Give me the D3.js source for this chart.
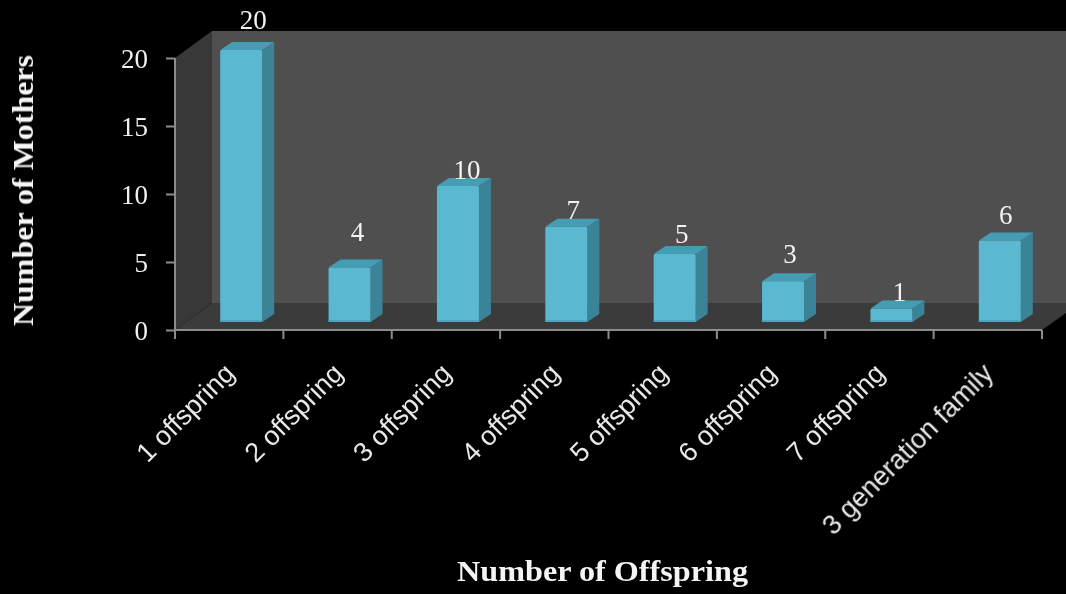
<!DOCTYPE html>
<html><head><meta charset="utf-8">
<script src="https://cdn.jsdelivr.net/npm/d3@7"></script>
<style>html,body{margin:0;background:#000;overflow:hidden}svg{display:block}</style>
</head><body><svg id="c" width="1066" height="594"></svg>
<script>
const categories = ["1 offspring","2 offspring","3 offspring","4 offspring","5 offspring","6 offspring","7 offspring","3 generation family"];
const mothers = [20,4,10,7,5,3,1,6];
const yTicks = [0,5,10,15,20];
const xTitle = "Number of Offspring";
const yTitle = "Number of Mothers";

const W=1066,H=594;
const svg=d3.select("#c");
const defs=svg.append("defs");
defs.append("filter").attr("id","soft").attr("x","-5%").attr("y","-5%").attr("width","110%").attr("height","110%")
  .append("feGaussianBlur").attr("stdDeviation",0.55);
defs.append("filter").attr("id","softText").attr("x","-5%").attr("y","-5%").attr("width","110%").attr("height","110%")
  .append("feGaussianBlur").attr("stdDeviation",0.35);
const x=d3.scaleBand().domain(categories).range([175,1042]);
const y=d3.scaleLinear().domain([0,20]).range([330,58]);
const wall={dx:37,dy:-27};
const barShift={x:12,y:-8}, depth={dx:12,dy:-8};
const halfBar=21;
const serif='"Liberation Serif",serif';
const sans='"Liberation Sans",sans-serif';

const g=svg.append("g").attr("filter","url(#soft)");
const [x0,x1]=x.range(), yb=y(0), yt=y(20);
const poly=(pts,fill)=>g.append("polygon").attr("points",pts.map(p=>p.join(",")).join(" ")).attr("fill",fill);
poly([[x0+wall.dx,yb+wall.dy],[W,yb+wall.dy],[W,yt+wall.dy],[x0+wall.dx,yt+wall.dy]],"#505050");
poly([[x0,yb],[x0+wall.dx,yb+wall.dy],[x0+wall.dx,yt+wall.dy],[x0,yt]],"#383838");
poly([[x0,yb],[x0+wall.dx,yb+wall.dy],[W,yb+wall.dy],[W,yb-17],[x1,yb]],"#3a3a3a");

// axes
const axisCol="#8c8c8c";
const ay=g.append("g").attr("transform",`translate(${x0},0)`)
  .call(d3.axisLeft(y).tickValues(yTicks).tickSize(9).tickFormat(d3.format("d")));
ay.selectAll("path").attr("stroke",axisCol).attr("stroke-width",2);
ay.selectAll("line").attr("stroke",axisCol).attr("stroke-width",2);
ay.selectAll("text").remove();
ay.select("path.domain").attr("d",`M0,${yt}V${yb}`);

const edges=[...categories.map(c=>x(c)),x1];
const ax=g.append("g");
ax.append("line").attr("x1",x0).attr("x2",x1).attr("y1",yb).attr("y2",yb).attr("stroke",axisCol).attr("stroke-width",2);
ax.selectAll("line.t").data(edges).join("line").attr("class","t")
  .attr("x1",d=>d).attr("x2",d=>d).attr("y1",yb).attr("y2",yb+9).attr("stroke",axisCol).attr("stroke-width",2);

// bars
const bars=g.selectAll("g.bar").data(categories.map((c,i)=>({c,v:mothers[i],i}))).join("g").attr("class","bar");
bars.each(function(d){
  const s=d3.select(this), cx=x(d.c)+x.bandwidth()/2+barShift.x;
  const l=cx-halfBar,r=cx+halfBar,t=y(d.v)+barShift.y,b=y(0)+barShift.y;
  s.append("polygon").attr("fill","#3a8397").attr("points",[[r,t],[r+depth.dx,t+depth.dy],[r+depth.dx,b+depth.dy],[r,b]].join(" "));
  s.append("polygon").attr("fill","#459db3").attr("points",[[l,t],[l+depth.dx,t+depth.dy],[r+depth.dx,t+depth.dy],[r,t]].join(" "));
  s.append("rect").attr("x",l).attr("y",t).attr("width",r-l).attr("height",b-t).attr("rx",1.5).attr("fill","#5ab8d1");
  s.append("rect").attr("x",l).attr("y",b-2).attr("width",r-l).attr("height",2).attr("fill","#4ba5bc");
});

// labels
const tg=svg.append("g").attr("filter","url(#softText)");
tg.selectAll("text.tick").data(yTicks).join("text").attr("class","tick")
  .attr("x",x0-27).attr("y",d=>y(d)+10).attr("text-anchor","end")
  .attr("fill","#f0f0f0").attr("font-family",serif).attr("font-size",27).text(d=>d);

const lift=[31,37,17,18,21,28,17,26], nudge=[12,8,9,7,7,7,8,6];
tg.selectAll("text.val").data(mothers).join("text").attr("class","val")
  .attr("x",(d,i)=>x(categories[i])+x.bandwidth()/2+barShift.x+nudge[i])
  .attr("y",(d,i)=>y(d)+barShift.y-lift[i]+10)
  .attr("text-anchor","middle").attr("fill","#f2f2f2").attr("font-family",serif).attr("font-size",27).text(d=>d);

tg.selectAll("text.cat").data(categories).join("text").attr("class","cat")
  .attr("transform",c=>`translate(${x(c)+x.bandwidth()/2+7},${yb+45}) rotate(-45)`)
  .attr("text-anchor","end").attr("fill","#e8e8e8").attr("font-family",sans).attr("font-size",27).text(c=>c);

tg.append("text").attr("x",602.5).attr("y",581).attr("text-anchor","middle").attr("fill","#f5f5f5")
  .attr("font-family",serif).attr("font-weight","bold").attr("font-size",30)
  .attr("textLength",291).attr("lengthAdjust","spacingAndGlyphs").text(xTitle);
tg.append("text").attr("transform","translate(33,190.5) rotate(-90)").attr("text-anchor","middle").attr("fill","#f5f5f5")
  .attr("font-family",serif).attr("font-weight","bold").attr("font-size",30)
  .attr("textLength",271).attr("lengthAdjust","spacingAndGlyphs").text(yTitle);
</script></body></html>
